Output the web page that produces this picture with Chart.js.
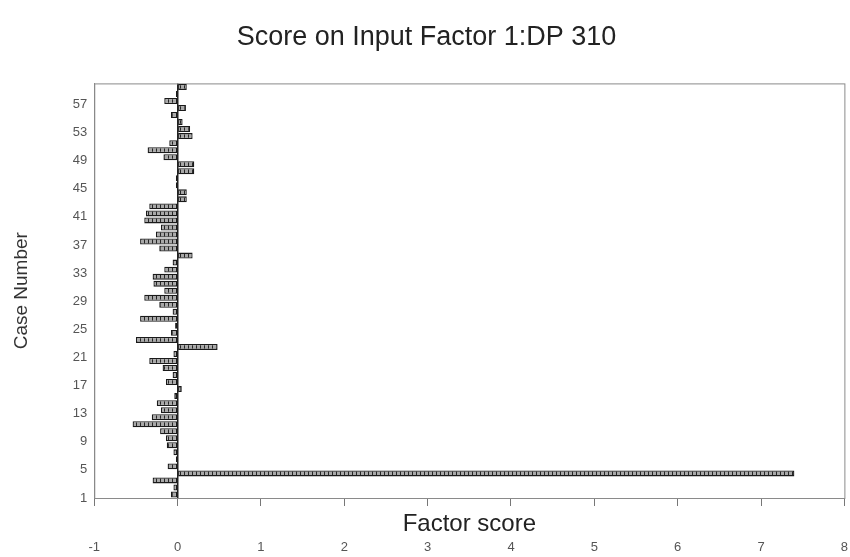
<!DOCTYPE html>
<html>
<head>
<meta charset="utf-8">
<script src="https://cdn.jsdelivr.net/npm/chart.js@4/dist/chart.umd.min.js"></script>
<style>
  html, body { margin: 0; padding: 0; background: #fff; }
  #wrap { width: 850px; height: 557px; }
</style>
</head>
<body>
<div id="wrap"><canvas id="myChart"></canvas></div>
<script>
// case numbers (bottom to top) and their factor scores
const caseNumbers = [1, 2, 3, 4, 5, 6, 7, 8, 9, 10, 11, 12, 13, 14, 15, 16, 17, 18, 19, 20,
  21, 22, 23, 24, 25, 26, 27, 28, 29, 30, 31, 32, 33, 34, 35, 36, 37, 38, 39, 40,
  41, 42, 43, 44, 45, 46, 47, 48, 49, 50, 51, 52, 53, 54, 55, 56, 57, 58, 59];
const factorScores = [-0.08, -0.05, -0.30, 7.40, -0.12, -0.02, -0.05, -0.13, -0.14, -0.21,
  -0.54, -0.31, -0.20, -0.25, -0.04, 0.05, -0.14, -0.06, -0.18, -0.34,
  -0.05, 0.48, -0.50, -0.08, -0.03, -0.45, -0.06, -0.22, -0.40, -0.16,
  -0.29, -0.30, -0.16, -0.06, 0.18, -0.22, -0.45, -0.26, -0.20, -0.40,
  -0.38, -0.34, 0.11, 0.11, -0.02, -0.02, 0.20, 0.20, -0.17, -0.36,
  -0.10, 0.18, 0.15, 0.06, -0.08, 0.10, -0.16, -0.02, 0.11];
const yTickLabels = [1, 5, 9, 13, 17, 21, 25, 29, 33, 37, 41, 45, 49, 53, 57];
const xTickLabels = [-1, 0, 1, 2, 3, 4, 5, 6, 7, 8];

// dotted fill like the old printout
function makePattern() {
  const c = document.createElement('canvas');
  c.width = 4; c.height = 4;
  const g = c.getContext('2d');
  g.fillStyle = '#a8a8a8';
  g.fillRect(0, 0, 4, 4);
  g.fillStyle = '#262626';
  g.fillRect(0, 0, 1, 4);
  return g.createPattern(c, 'repeat');
}

// box round the plot area
const frame = {
  id: 'frame',
  beforeDatasetsDraw(chart) {
    const a = chart.chartArea, ctx = chart.ctx;
    ctx.save();
    ctx.strokeStyle = '#8a8a8a';
    ctx.lineWidth = 1;
    ctx.strokeRect(a.left + 0.5, a.top + 0.5, a.right - a.left, a.bottom - a.top);
    ctx.restore();
  }
};

const font = 'Liberation Sans';
const ctx = document.getElementById('myChart').getContext('2d');

new Chart(ctx, {
  type: 'bar',
  data: {
    datasets: [{
      data: caseNumbers.map((c, i) => ({ x: factorScores[i], y: c - 0.5 })),
      backgroundColor: makePattern(),
      borderColor: '#1a1a1a',
      borderWidth: 1.3,
      borderSkipped: false,
      barPercentage: 0.85,
      categoryPercentage: 1,
      xAxisID: 'x',
      yAxisID: 'y'
    }]
  },
  options: {
    indexAxis: 'y',
    responsive: true,
    maintainAspectRatio: false,
    animation: false,
    layout: { padding: { left: 8, right: 5, top: 0, bottom: 0 } },
    plugins: {
      legend: { display: false },
      tooltip: { enabled: false },
      title: {
        display: true,
        text: 'Score on Input Factor 1:DP 310',
        color: '#222',
        font: { family: font, size: 27, weight: 'normal' },
        padding: { top: 21, bottom: 30 }
      }
    },
    scales: {
      x: {
        type: 'linear',
        position: 'bottom',
        weight: 0,
        min: -1,
        max: 8,
        afterBuildTicks: s => { s.ticks = xTickLabels.map(v => ({ value: v })); },
        ticks: { display: false },
        grid: { drawOnChartArea: false, drawTicks: true, tickLength: 8, color: '#777' },
        border: { color: '#777' },
        title: {
          display: true,
          text: 'Factor score',
          color: '#222',
          font: { family: font, size: 24, lineHeight: 1.1 },
          padding: { top: 5, bottom: 0 }
        }
      },
      x2: {
        type: 'linear',
        position: 'bottom',
        weight: 1,
        min: -1,
        max: 8,
        afterBuildTicks: s => { s.ticks = xTickLabels.map(v => ({ value: v })); },
        ticks: { color: '#555', font: { family: font, size: 13 }, padding: 2 },
        grid: {
          drawTicks: false,
          drawOnChartArea: true,
          color: c => (c.tick && c.tick.value === 0 ? '#222' : 'rgba(0,0,0,0)'),
          lineWidth: 1.5
        },
        border: { display: false }
      },
      y: {
        type: 'linear',
        offset: false,
        min: 0,
        max: 59,
        afterBuildTicks: s => { s.ticks = yTickLabels.map(n => ({ value: n - 1 })); },
        ticks: {
          color: '#555',
          font: { family: font, size: 13 },
          padding: 7,
          callback: v => String(v + 1)
        },
        grid: { drawOnChartArea: false, drawTicks: false },
        border: { color: '#8a8a8a' },
        title: {
          display: true,
          text: 'Case Number',
          color: '#333',
          font: { family: font, size: 19 },
          padding: { top: 2, bottom: 33 }
        }
      }
    }
  },
  plugins: [frame]
});
</script>
</body>
</html>
